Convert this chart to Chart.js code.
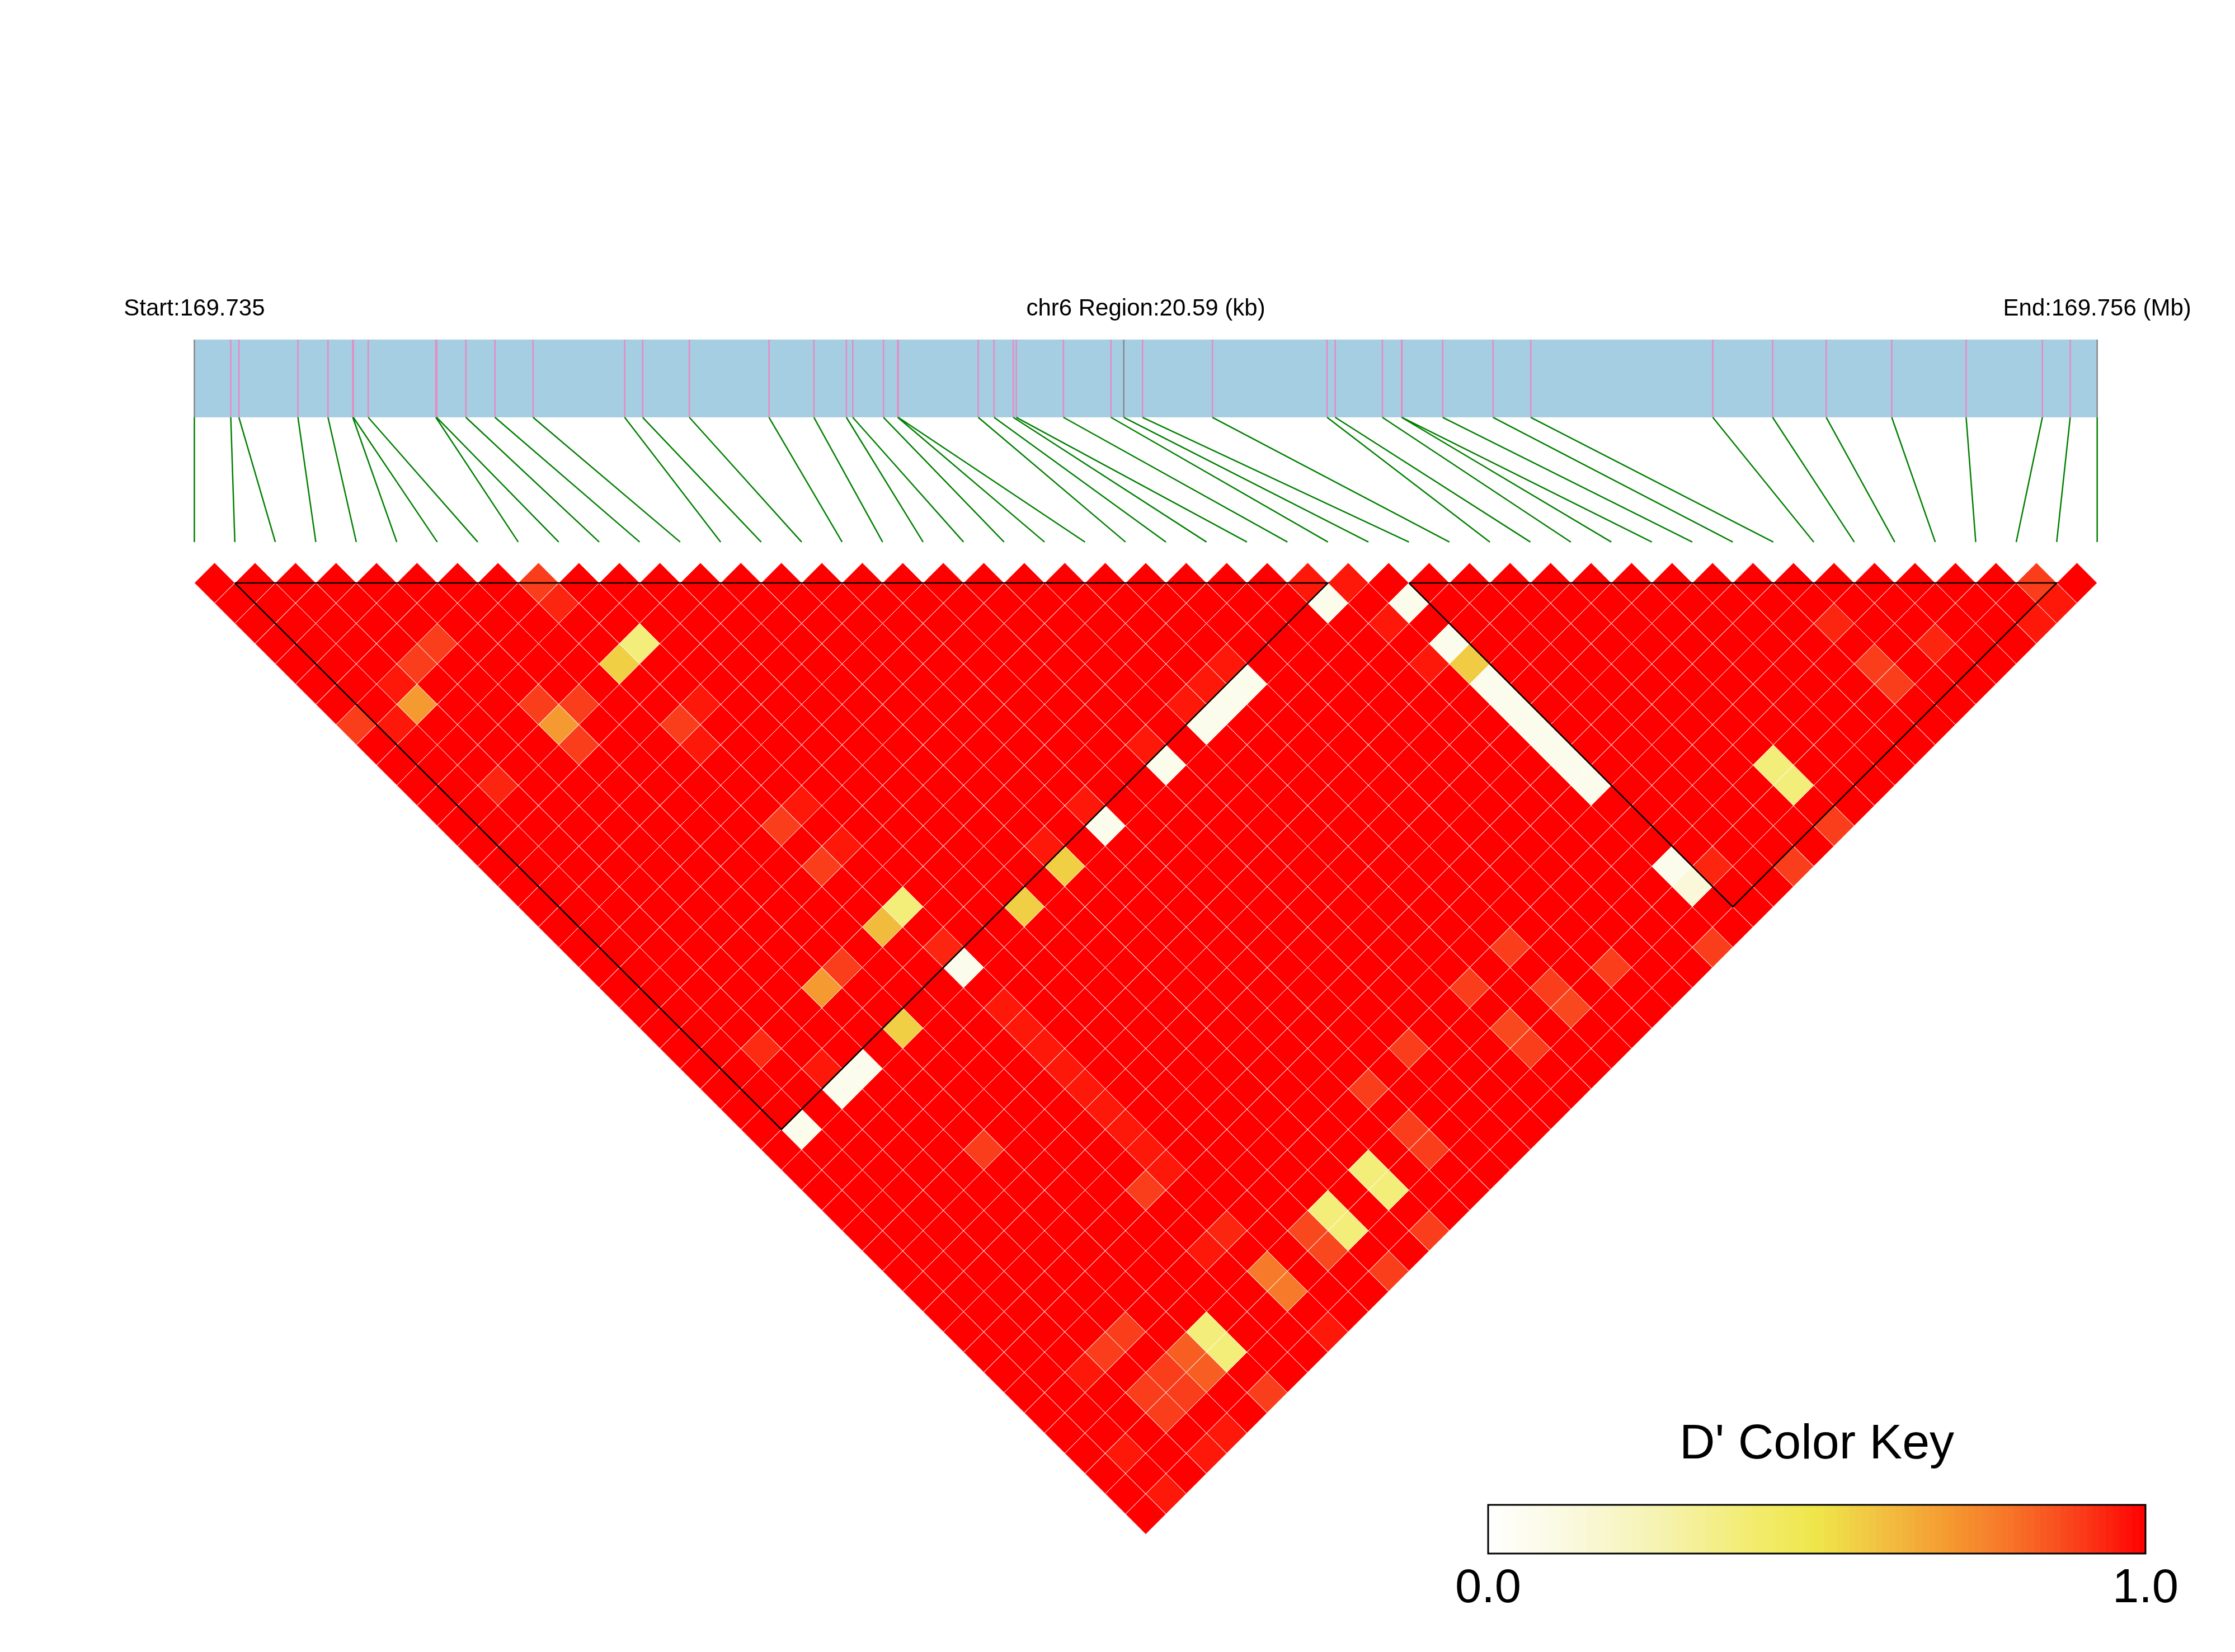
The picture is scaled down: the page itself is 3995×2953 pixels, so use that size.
<!DOCTYPE html>
<html>
<head>
<meta charset="utf-8">
<title>LD heatmap chr6</title>
<script src="https://cdn.jsdelivr.net/npm/chart.js"></script>
<style>
  html, body { margin: 0; padding: 0; background: #fff; }
  #ldChart { display: block; }
</style>
</head>
<body>
<canvas id="ldChart" width="3995" height="2953"></canvas>
<script>
// region info (Mb / kb)
const chromName = 'chr6';
const regionStartMb = 169.735;
const regionEndMb = 169.756;
const regionKb = 20.59;

// SNP positions, kb from region start
const snpPosKb = [0, 0.394, 0.482, 1.121, 1.446, 1.714, 1.720, 1.881, 2.613, 2.622,
  2.938, 3.253, 3.665, 4.656, 4.851, 5.356, 6.218, 6.704, 7.055, 7.124,
  7.457, 7.611, 7.616, 8.482, 8.653, 8.861, 8.894, 9.404, 9.918, 10.057,
  10.260, 11.016, 12.257, 12.345, 12.855, 13.063, 13.067, 13.508, 14.053, 14.461,
  16.430, 17.078, 17.658, 18.367, 19.172, 19.997, 20.298, 20.590];

// SNPs drawn with a grey tick in the gene bar
const greyTicks = [0, 29, 47];

// haplotype blocks [first SNP, last SNP]
const ldBlocks = [[1, 28], [30, 46]];

// pairs whose D' is below 1 : [i, j, D'] (every other pair reads as 1.0)
const lowPairs = [
  // SNP 29 stripes (near white)
  [1, 29, 0.07], [3, 29, 0.07], [4, 29, 0.07], [9, 29, 0.07], [16, 29, 0.07],
  [19, 29, 0.07], [21, 29, 0.07], [22, 29, 0.07], [23, 29, 0.07], [27, 29, 0.07],
  [29, 31, 0.07], [29, 33, 0.07], [29, 35, 0.07], [29, 36, 0.07],
  [29, 37, 0.07], [29, 38, 0.07], [29, 39, 0.07], [29, 40, 0.07], [29, 44, 0.07],
  [29, 45, 0.14],
  // gold
  [6, 29, 0.56], [12, 29, 0.56], [14, 29, 0.56], [29, 34, 0.57], [8, 13, 0.56], [8, 26, 0.61],
  // light yellow
  [9, 13, 0.38], [9, 26, 0.38], [34, 44, 0.38], [34, 45, 0.38], [14, 44, 0.38],
  [14, 45, 0.38], [12, 44, 0.38], [12, 45, 0.38], [6, 44, 0.38], [6, 45, 0.38],
  // orange
  [2, 9, 0.7], [5, 13, 0.7], [5, 26, 0.7], [9, 44, 0.78], [9, 45, 0.78],
  [5, 44, 0.84], [5, 45, 0.84],
  [23, 45, 0.88], [21, 44, 0.88], [11, 44, 0.88], [11, 45, 0.88],
  // red-orange
  [8, 9, 0.9], [4, 8, 0.9], [3, 8, 0.9], [0, 8, 0.9], [5, 12, 0.9], [6, 13, 0.9],
  [5, 14, 0.9], [8, 16, 0.9], [8, 21, 0.9], [8, 23, 0.9], [6, 26, 0.9], [45, 46, 0.9],
  [39, 44, 0.9], [39, 45, 0.9], [34, 47, 0.9], [32, 47, 0.9], [23, 42, 0.9], [28, 47, 0.9],
  [25, 45, 0.9], [21, 42, 0.9], [23, 44, 0.9], [21, 45, 0.9], [18, 42, 0.9], [16, 42, 0.9],
  [16, 44, 0.9], [16, 45, 0.9], [14, 47, 0.9], [12, 47, 0.9], [8, 39, 0.9], [4, 42, 0.9],
  [3, 42, 0.9], [4, 44, 0.9], [3, 44, 0.9], [4, 45, 0.9], [3, 45, 0.9], [6, 47, 0.9],
  [5, 34, 0.9],
  [8, 10, 0.94], [2, 13, 0.94], [9, 28, 0.94], [39, 42, 0.94], [41, 45, 0.94],
  [30, 45, 0.94], [9, 42, 0.94], [2, 26, 0.93],
  // slightly lighter red
  [2, 8, 0.96], [1, 9, 0.96], [9, 16, 0.96], [8, 17, 0.96], [27, 28, 0.96], [28, 29, 0.96],
  [9, 21, 0.96], [9, 23, 0.96], [14, 28, 0.96], [16, 28, 0.96], [19, 28, 0.96],
  [21, 28, 0.96], [22, 28, 0.96], [23, 28, 0.96], [45, 47, 0.96], [44, 47, 0.96],
  [9, 39, 0.96], [9, 38, 0.96], [9, 37, 0.96], [9, 36, 0.96], [8, 42, 0.96], [2, 42, 0.96],
  [9, 47, 0.96], [4, 47, 0.96], [3, 47, 0.96], [1, 45, 0.96], [1, 47, 0.96], [3, 28, 0.96],
  [9, 31, 0.96], [9, 32, 0.96], [9, 33, 0.96], [9, 34, 0.96], [9, 35, 0.96],
  [28, 31, 0.96], [28, 33, 0.96]
];

const keyTitle = "D' Color Key";
const keyLabels = ['0.0', '1.0'];

// colour ramp for D'
const rampAt = [0, 0.1, 0.25, 0.4, 0.5, 0.6, 0.7, 0.8, 0.9, 1];
const rampRgb = [[255,255,255],[251,250,229],[246,243,181],[242,236,112],[239,230,74],
  [241,192,64],[245,154,48],[247,114,40],[250,61,26],[255,0,0]];

function dColor(v) {
  let k = 1;
  while (k < rampAt.length - 1 && v > rampAt[k]) k++;
  const t = (v - rampAt[k - 1]) / (rampAt[k] - rampAt[k - 1]);
  const a = rampRgb[k - 1], b = rampRgb[k];
  const c = a.map((ch, n) => Math.round(ch + (b[n] - ch) * Math.max(0, Math.min(1, t))));
  return 'rgb(' + c.join(',') + ')';
}

// vertical layout in "SNP step" units (y grows downward)
const BAR_TOP = -6.01;
const BAR_BOT = -4.09;
const LINK_END = -1.01;

const nSnp = snpPosKb.length;
const toIdx = kb => kb / regionKb * (nSnp - 1);

const lowMap = new Map(lowPairs.map(p => [p[0] + '-' + p[1], p[2]]));
const cells = [];
for (let i = 0; i < nSnp; i++) {
  for (let j = i + 1; j < nSnp; j++) {
    const key = i + '-' + j;
    cells.push({ x: (i + j) / 2, y: (j - i - 1) / 2, v: lowMap.has(key) ? lowMap.get(key) : 1 });
  }
}

const pinkPts = [], greyPts = [], linkPts = [];
snpPosKb.forEach((kb, k) => {
  const gx = toIdx(kb);
  const tgt = greyTicks.includes(k) ? greyPts : pinkPts;
  tgt.push({ x: gx, y: BAR_TOP }, { x: gx, y: BAR_BOT }, { x: gx, y: null });
  linkPts.push({ x: gx, y: BAR_BOT }, { x: k, y: LINK_END }, { x: k, y: null });
});

const blockPts = [];
ldBlocks.forEach(([a, b]) => {
  blockPts.push({ x: a, y: 0 }, { x: b, y: 0 }, { x: (a + b) / 2, y: (b - a) / 2 }, { x: a, y: 0 }, { x: a, y: null });
});

const FONT = '"Liberation Sans", Arial, sans-serif';

const labelsPlugin = {
  id: 'ldLabels',
  afterDraw(chart) {
    const { ctx, scales: { x, y } } = chart;
    ctx.save();
    ctx.fillStyle = '#000';
    ctx.textAlign = 'center';
    ctx.textBaseline = 'alphabetic';
    ctx.font = '42px ' + FONT;
    const ty = y.getPixelForValue(BAR_TOP) - 43;
    ctx.fillText('Start:' + regionStartMb.toFixed(3), x.getPixelForValue(0), ty);
    ctx.fillText(chromName + ' Region:' + regionKb.toFixed(2) + ' (kb)', x.getPixelForValue((nSnp - 1) / 2), ty);
    ctx.fillText('End:' + regionEndMb.toFixed(3) + ' (Mb)', x.getPixelForValue(nSnp - 1), ty);

    // colour key
    const kL = 2660, kR = 3835, kT = 2690, kB = 2777;
    const steps = 100, w = (kR - kL) / steps;
    for (let s = 0; s < steps; s++) {
      ctx.fillStyle = dColor((s + 0.5) / steps);
      ctx.fillRect(kL + s * w, kT, w + 0.6, kB - kT);
    }
    ctx.strokeStyle = '#000';
    ctx.lineWidth = 3;
    ctx.strokeRect(kL, kT, kR - kL, kB - kT);
    ctx.fillStyle = '#000';
    ctx.font = '88px ' + FONT;
    ctx.fillText(keyTitle, (kL + kR) / 2, 2607);
    ctx.font = '85px ' + FONT;
    ctx.fillText(keyLabels[0], kL, 2864);
    ctx.fillText(keyLabels[1], kR, 2864);
    ctx.restore();
  }
};

const halfStepPx = ctx => {
  const xs = ctx.chart.scales.x;
  return xs ? Math.abs(xs.getPixelForValue(0.5) - xs.getPixelForValue(0)) : 36;
};

new Chart(document.getElementById('ldChart'), {
  type: 'scatter',
  data: {
    datasets: [
      {
        label: 'blocks', type: 'line', data: blockPts, order: 0,
        borderColor: '#000', borderWidth: 2.5, pointRadius: 0, spanGaps: false,
        tension: 0, fill: false, borderJoinStyle: 'miter', clip: false
      },
      {
        label: "D'", data: cells, order: 1, showLine: false,
        pointStyle: 'rectRot', pointRadius: halfStepPx,
        pointBackgroundColor: c => dColor(c.raw ? c.raw.v : 1),
        pointBorderColor: '#ffffff', pointBorderWidth: 1, clip: false
      },
      {
        label: 'links', type: 'line', data: linkPts, order: 2,
        borderColor: '#008000', borderWidth: 2.5, pointRadius: 0, spanGaps: false,
        tension: 0, fill: false, clip: false
      },
      {
        label: 'snp ticks', type: 'line', data: pinkPts, order: 3,
        borderColor: '#e78ac3', borderWidth: 2.5, pointRadius: 0, spanGaps: false,
        tension: 0, fill: false, clip: false
      },
      {
        label: 'grey ticks', type: 'line', data: greyPts, order: 3,
        borderColor: '#888888', borderWidth: 2.5, pointRadius: 0, spanGaps: false,
        tension: 0, fill: false, clip: false
      },
      {
        label: 'gene bar', type: 'line', order: 4,
        data: [{ x: 0, y: BAR_TOP }, { x: nSnp - 1, y: BAR_TOP }],
        borderWidth: 0, borderColor: 'rgba(0,0,0,0)', pointRadius: 0,
        fill: { value: BAR_BOT }, backgroundColor: '#a6cee3', clip: false
      }
    ]
  },
  options: {
    responsive: false,
    animation: false,
    devicePixelRatio: 1,
    events: [],
    layout: { padding: 0 },
    plugins: {
      legend: { display: false },
      tooltip: { enabled: false },
      title: { display: false }
    },
    scales: {
      x: { type: 'linear', display: false, min: -4.8005, max: 50.404 },
      y: { type: 'linear', display: false, reverse: true, min: -14.399, max: 26.407 }
    }
  },
  plugins: [labelsPlugin]
});
</script>
</body>
</html>
